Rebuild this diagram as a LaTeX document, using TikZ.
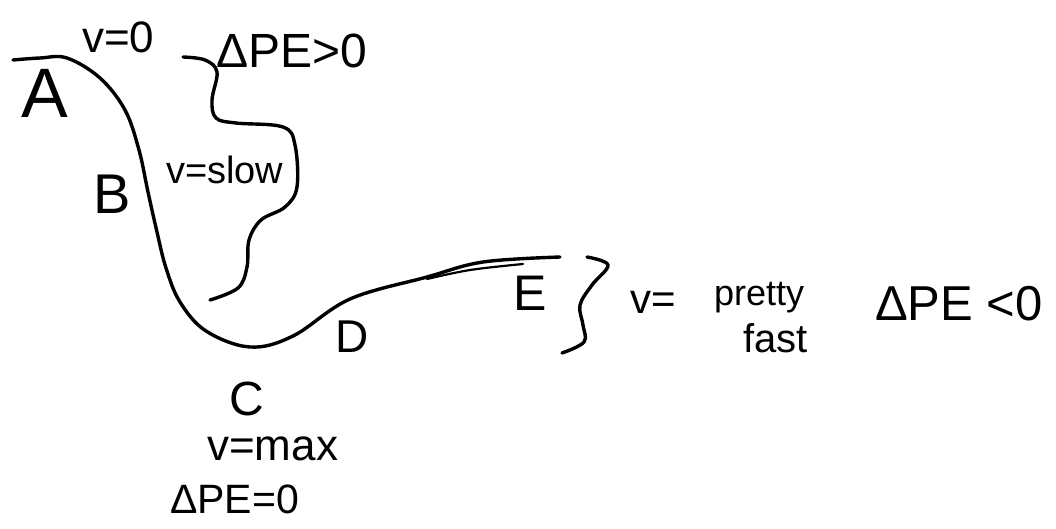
\documentclass[tikz,border=0pt]{standalone}
\usepackage{fontspec}
\setmainfont{Liberation Sans}
\begin{document}
\begin{tikzpicture}[x=1pt,y=-1pt,
  ink/.style={line width=3.4pt,line cap=round,line join=round},
  lbl/.style={inner sep=0pt,anchor=base west},
  fs/.style={font=\fontsize{#1}{#1}\selectfont}]
\useasboundingbox (0,0) rectangle (1056,528);
% track
\draw[ink] plot[smooth,tension=0.6] coordinates {(13,60) (40,58) (67,58) (100,78) (125,110) (139,150) (148,192) (157,232) (166,268) (180,302) (206,331) (250,347) (293,336) (350,299) (427,277) (483,262) (560,257)};
\draw[ink,line width=2.2pt] plot[smooth,tension=0.6] coordinates {(427,279) (470,270) (523,264)};
% squiggle bracket near v=slow
\draw[ink] plot[smooth,tension=0.6] coordinates {(183,57) (205,60) (217,72) (212,100) (216,118) (236,123) (283,127) (295,145) (297,187) (285,207) (261,220) (249,240) (247,267) (238,288) (210,300)};
% brace right of E
\draw[ink] plot[smooth,tension=0.6] coordinates {(587,257) (608,265) (592,285) (580,305) (583,325) (584,342) (562,353)};
% labels
\node[lbl,fs=70] (A) at (21,117) {A};
\node[lbl,fs=56] (B) at (93,213) {B};
\node[lbl,fs=44] (v0) at (82,52) {v=0};
\node[lbl,fs=48] (dpe1) at (216,67) {ΔPE>0};
\node[lbl,fs=38] (vs) at (166,183) {v=slow};
\node[lbl,fs=48] (C) at (229,415) {C};
\node[lbl,fs=44] (vm) at (207,460) {v=max};
\node[lbl,fs=41] (dpe2) at (170,513) {ΔPE=0};
\node[lbl,fs=46] (D) at (335,352) {D};
\node[lbl,fs=50] (E) at (513,310) {E};
\node[lbl,fs=42] (vp) at (630,313) {v=};
\node[lbl,fs=36] (pr) at (714,305) {pretty};
\node[lbl,fs=40] (fa) at (743,352) {fast};
\node[lbl,fs=49] (dpe3) at (875,320) {ΔPE <0};
\end{tikzpicture}
\end{document}
